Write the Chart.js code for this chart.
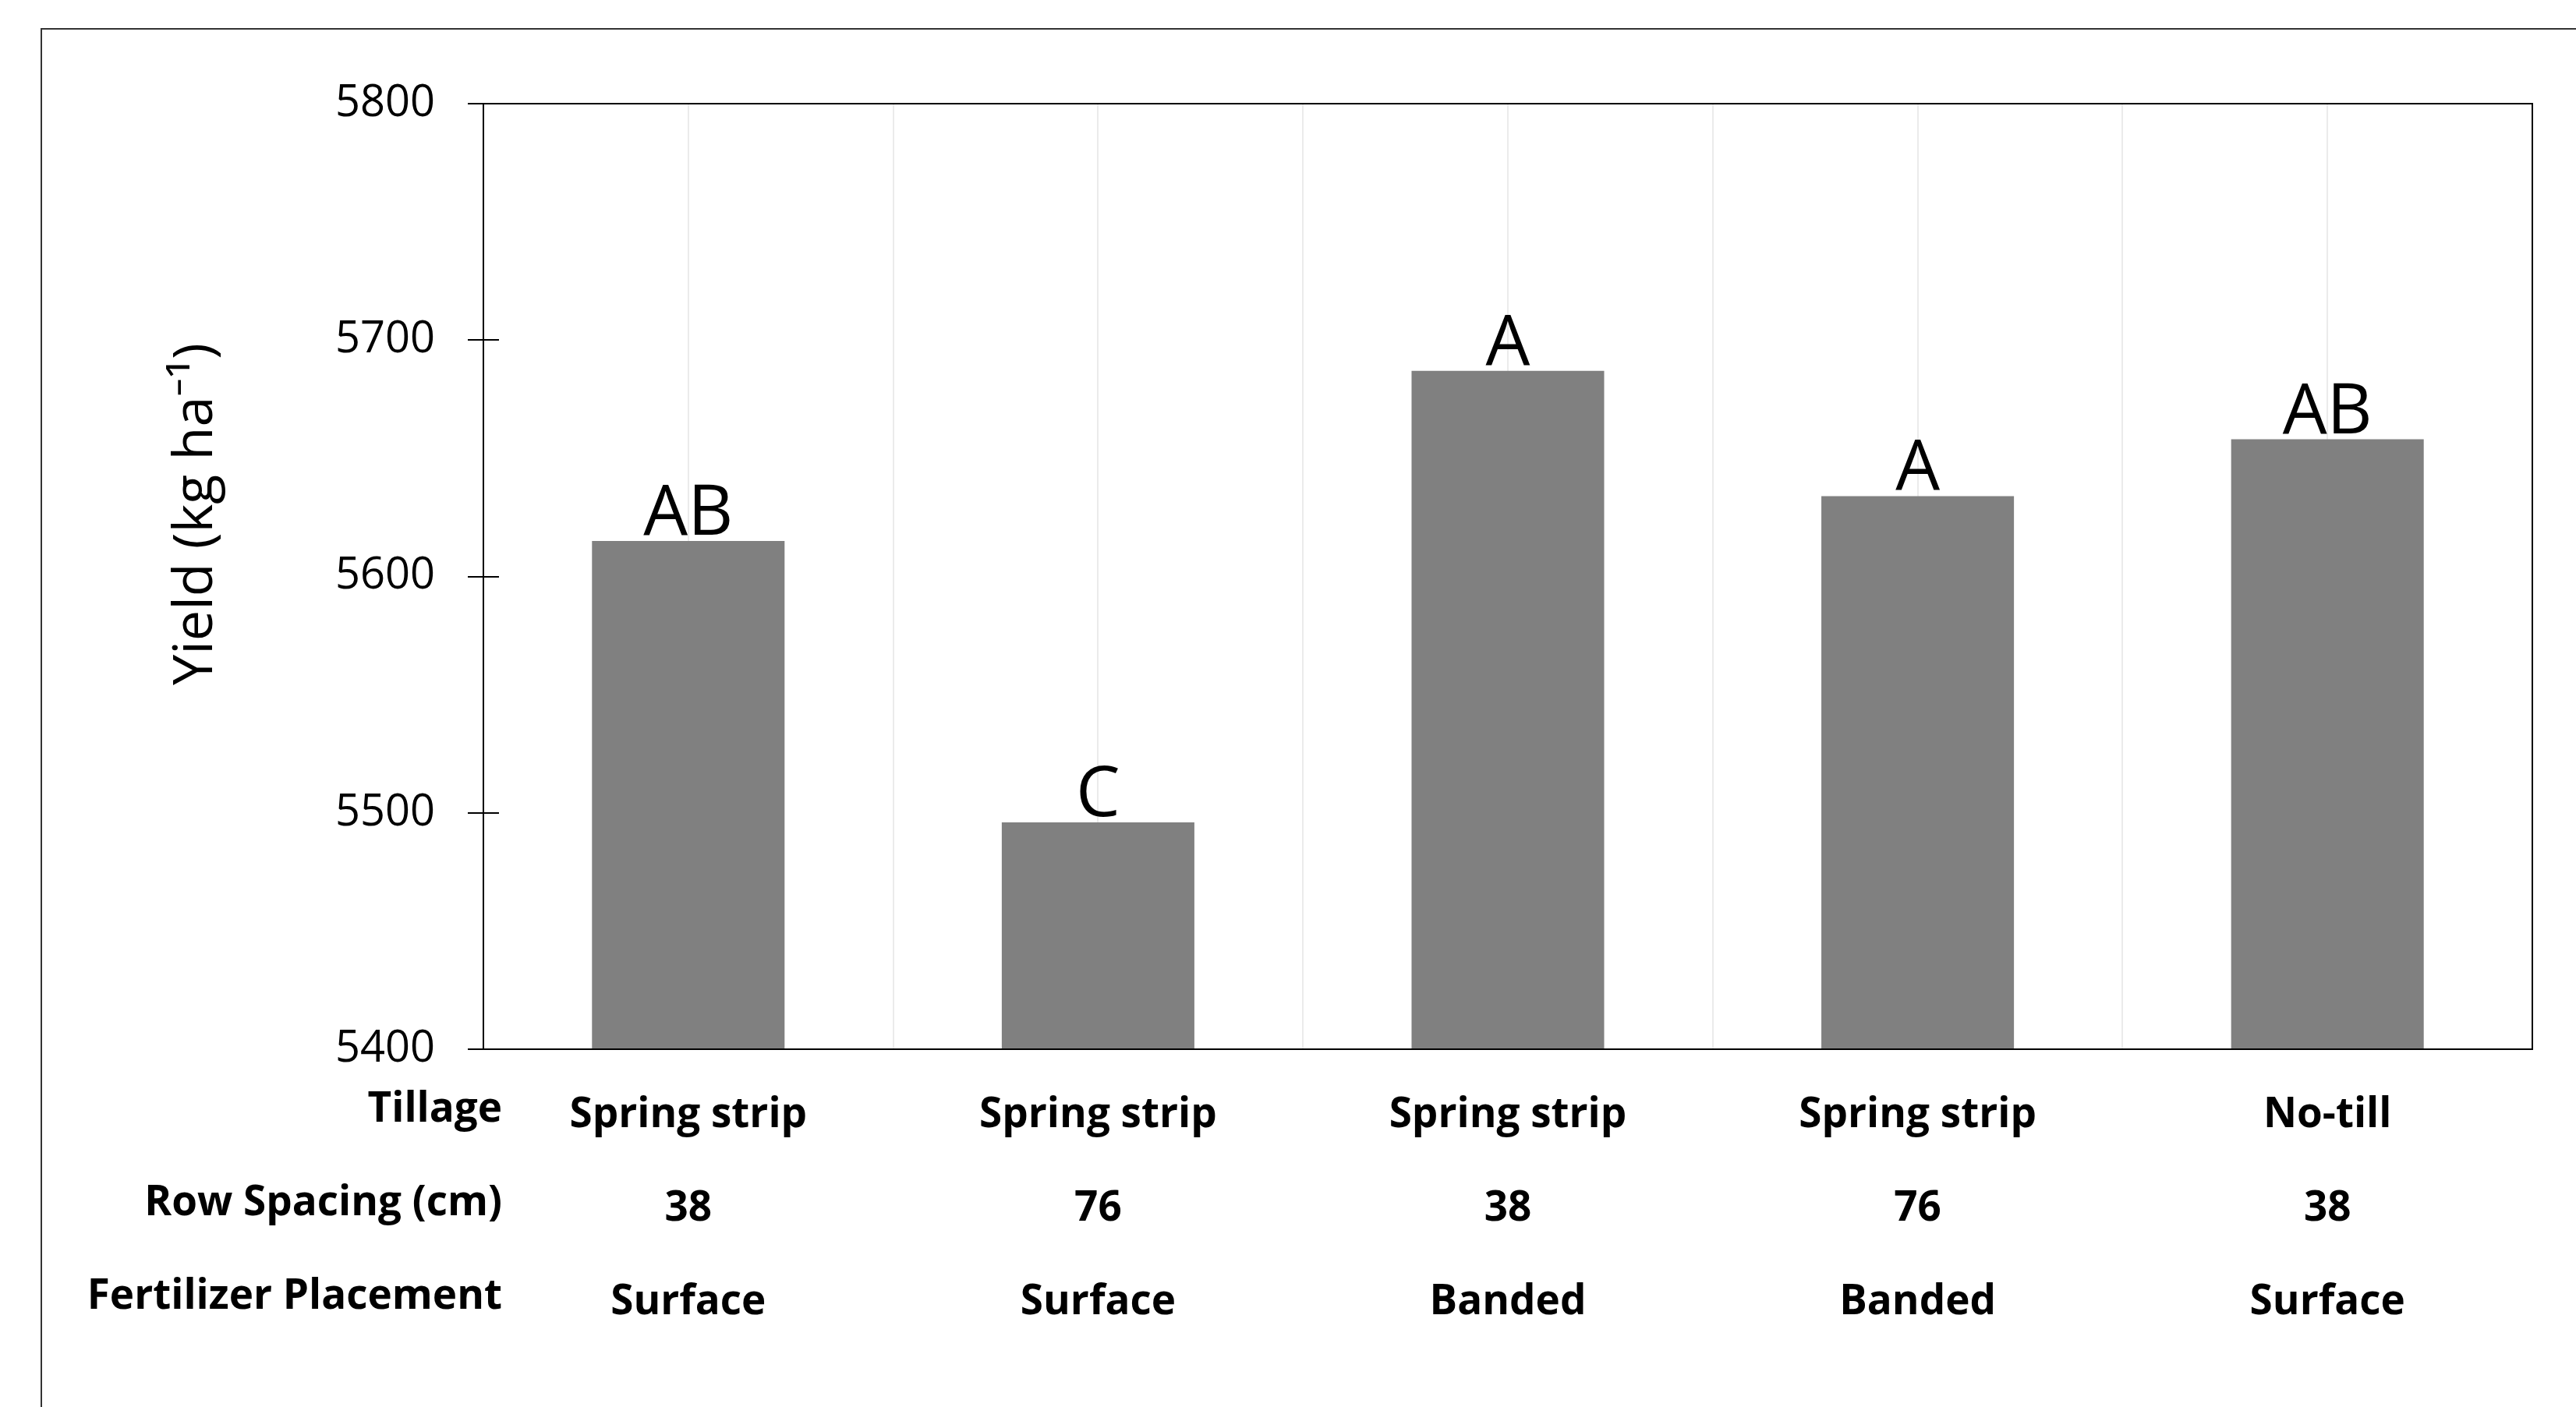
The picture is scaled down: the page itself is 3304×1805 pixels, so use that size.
<!DOCTYPE html>
<html>
<head>
<meta charset="utf-8">
<script src="https://cdn.jsdelivr.net/npm/chart.js@4.4.1/dist/chart.umd.min.js"></script>
<style>
  html, body { margin: 0; padding: 0; background: #fff; overflow: hidden; }
  #wrap { position: relative; width: 3304px; height: 1805px; }
  #frame { position: absolute; left: 52px; top: 36px; right: -10px; bottom: -10px;
           border-top: 2px solid #333; border-left: 2px solid #333; pointer-events: none; }
  canvas { position: absolute; left: 0; top: 0; }
</style>
</head>
<body>
<div id="wrap">
  <canvas id="chartYield" width="3304" height="1805"></canvas>
  <div id="frame"></div>
</div>
<script>
const tillage = ['Spring strip', 'Spring strip', 'Spring strip', 'Spring strip', 'No-till'];
const rowSpacing = ['38', '76', '38', '76', '38'];
const placement = ['Surface', 'Surface', 'Banded', 'Banded', 'Surface'];
const yieldValues = [5615, 5496, 5687, 5634, 5658];
const letters = ['AB', 'C', 'A', 'A', 'AB'];
const rowHeaders = ['Tillage', 'Row Spacing (cm)', 'Fertilizer Placement'];
const yMin = 5400, yMax = 5800, yStep = 100;
const yTitle = 'Yield (kg ha\u207B\u00B9)';

const labels = tillage.map((t, i) => [t, rowSpacing[i], placement[i]]);
// one grid slot per half category, so lines fall on bar centres and between bars
const halfSlots = Array.from({ length: labels.length * 2 + 1 }, () => '');

const LABEL_FONT = { family: '"Open Sans", "Noto Sans", sans-serif', size: 53, weight: 'bold', lineHeight: 2.26 };
const X_PAD = 25;

// letters over bars, frame, inner tick halves, row headers, y title
const extras = {
  id: 'extras',
  afterDatasetsDraw(chart) {
    const ctx = chart.ctx;
    ctx.save();
    ctx.fillStyle = '#000';
    ctx.font = '90px "Open Sans", "Noto Sans", sans-serif';
    ctx.textAlign = 'center';
    ctx.textBaseline = 'alphabetic';
    chart.getDatasetMeta(0).data.forEach((bar, i) => {
      ctx.fillText(letters[i], bar.x, bar.y - 8);
    });
    ctx.restore();
  },
  afterDraw(chart) {
    const ctx = chart.ctx;
    const area = chart.chartArea;
    const y = chart.scales.y;
    const x = chart.scales.x;
    ctx.save();
    ctx.strokeStyle = '#000';
    ctx.lineWidth = 2;
    ctx.strokeRect(area.left, area.top, area.right - area.left, area.bottom - area.top);

    ctx.beginPath();
    y.ticks.forEach(t => {
      const py = Math.round(y.getPixelForValue(t.value));
      ctx.moveTo(area.left, py);
      ctx.lineTo(area.left + 20, py);
    });
    ctx.stroke();

    const lh = LABEL_FONT.size * LABEL_FONT.lineHeight;
    ctx.fillStyle = '#000';
    ctx.font = 'bold 53px "Open Sans", "Noto Sans", sans-serif';
    ctx.textAlign = 'right';
    ctx.textBaseline = 'middle';
    rowHeaders.forEach((h, i) => {
      ctx.fillText(h, area.left + 24, x.top + X_PAD + lh / 2 + i * lh - 7);
    });

    ctx.translate(252, (area.top + area.bottom) / 2 - 80);
    ctx.rotate(-Math.PI / 2);
    ctx.textAlign = 'center';
    ctx.font = '70px "Open Sans", "Noto Sans", sans-serif';
    ctx.fillText(yTitle, 0, 0);
    ctx.restore();
  }
};

new Chart(document.getElementById('chartYield'), {
  type: 'bar',
  data: {
    labels: labels,
    datasets: [{
      data: yieldValues,
      backgroundColor: '#808080',
      borderWidth: 0,
      barPercentage: 0.47,
      categoryPercentage: 1
    }]
  },
  options: {
    responsive: false,
    animation: false,
    devicePixelRatio: 1,
    layout: { padding: { top: 133, right: 56, left: 0, bottom: 0 } },
    plugins: {
      legend: { display: false },
      tooltip: { enabled: false }
    },
    scales: {
      x: {
        type: 'category',
        grid: { display: false, drawTicks: false },
        border: { display: true, color: '#000', width: 2 },
        ticks: {
          color: '#000',
          font: LABEL_FONT,
          padding: X_PAD,
          maxRotation: 0,
          autoSkip: false
        },
        afterFit: s => { s.height = 459; }
      },
      x2: {
        type: 'category',
        labels: halfSlots,
        position: 'top',
        offset: false,
        ticks: { display: false, autoSkip: false },
        grid: { color: '#ebebeb', lineWidth: 2, drawTicks: false, offset: false },
        border: { display: false },
        afterFit: s => { s.height = 0; }
      },
      y: {
        min: yMin,
        max: yMax,
        ticks: {
          stepSize: yStep,
          color: '#000',
          padding: 42,
          font: { family: '"Open Sans", "Noto Sans", sans-serif', size: 56 },
          callback: v => String(v)
        },
        grid: { drawOnChartArea: false, tickLength: 20, color: '#000', lineWidth: 2 },
        border: { color: '#000', width: 2 },
        afterFit: s => { s.width = 620; }
      }
    }
  },
  plugins: [extras]
});
</script>
</body>
</html>
